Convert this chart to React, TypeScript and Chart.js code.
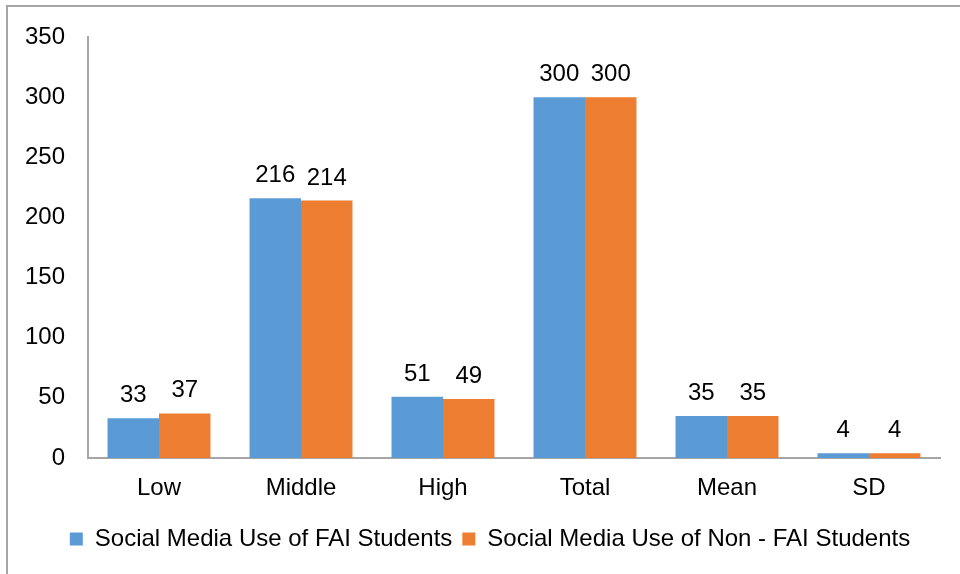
import React, { useEffect, useRef } from "react";
import { Chart, registerables } from "chart.js";

Chart.register(...registerables);

const categories = ["Low", "Middle", "High", "Total", "Mean", "SD"];
const faiValues = [33, 216, 51, 300, 35, 4];
const nonFaiValues = [37, 214, 49, 300, 35, 4];
const seriesNames = ["Social Media Use of FAI Students", "Social Media Use of Non - FAI Students"];
const yTicks = [0, 50, 100, 150, 200, 250, 300, 350];

const FONT = "'Liberation Sans', Arial, Helvetica, sans-serif";

const framePlugin = {
  id: "frame",
  beforeDraw(chart: any) {
    const ctx = chart.ctx;
    ctx.save();
    ctx.strokeStyle = "#A6A6A6";
    ctx.lineWidth = 2;
    ctx.beginPath();
    ctx.moveTo(7, chart.height);
    ctx.lineTo(7, 6);
    ctx.lineTo(chart.width, 6);
    ctx.stroke();
    ctx.restore();
  },
};

const legendShiftPlugin = {
  id: "legendShift",
  afterLayout(chart: any) {
    if (chart.legend) {
      chart.legend.left += 20;
      chart.legend.right += 20;
    }
  },
};

const labelPlugin = {
  id: "barLabels",
  afterDatasetsDraw(chart: any) {
    const ctx = chart.ctx;
    ctx.save();
    ctx.fillStyle = "#000";
    ctx.font = `24px ${FONT}`;
    ctx.textAlign = "center";
    ctx.textBaseline = "alphabetic";
    chart.data.datasets.forEach((ds: any, i: number) => {
      const meta = chart.getDatasetMeta(i);
      meta.data.forEach((bar: any, j: number) => {
        ctx.fillText(String(ds.data[j]), bar.x, bar.y - 16);
      });
    });
    ctx.restore();
  },
};

export default function App() {
  const ref = useRef<HTMLCanvasElement>(null);
  useEffect(() => {
    document.body.style.margin = "0";
    const chart = new Chart(ref.current!, {
      type: "bar",
      data: {
        labels: categories,
        datasets: [
          { label: seriesNames[0], data: faiValues, backgroundColor: "#5B9BD5", borderWidth: 0 },
          { label: seriesNames[1], data: nonFaiValues, backgroundColor: "#ED7D31", borderWidth: 0 },
        ],
      },
      options: {
        animation: false,
        responsive: false,
        maintainAspectRatio: false,
        layout: { padding: { top: 37, right: 20, left: 0, bottom: 13 } },
        datasets: { bar: { categoryPercentage: 0.725, barPercentage: 1 } },
        scales: {
          x: {
            grid: { display: false },
            border: { display: true, color: "#A6A6A6", width: 2 },
            ticks: { color: "#000", font: { size: 24, family: FONT }, padding: 8 },
            afterFit: (s: any) => { s.height = 59; },
          },
          y: {
            min: 0,
            max: 350,
            afterBuildTicks: (s: any) => { s.ticks = yTicks.map((v) => ({ value: v })); },
            grid: { display: false },
            border: { display: true, color: "#A6A6A6", width: 2 },
            ticks: { color: "#000", font: { size: 24, family: FONT }, padding: 15 },
            afterFit: (s: any) => { s.width = 88; },
          },
        },
        plugins: {
          legend: {
            position: "bottom",
            labels: { color: "#000", font: { size: 24, family: FONT }, boxWidth: 13, boxHeight: 13, padding: 10 },
          },
          tooltip: { enabled: false },
        },
      },
      plugins: [framePlugin, labelPlugin, legendShiftPlugin],
    });
    return () => chart.destroy();
  }, []);
  return <canvas ref={ref} width={960} height={574} style={{ display: "block" }} />;
}
